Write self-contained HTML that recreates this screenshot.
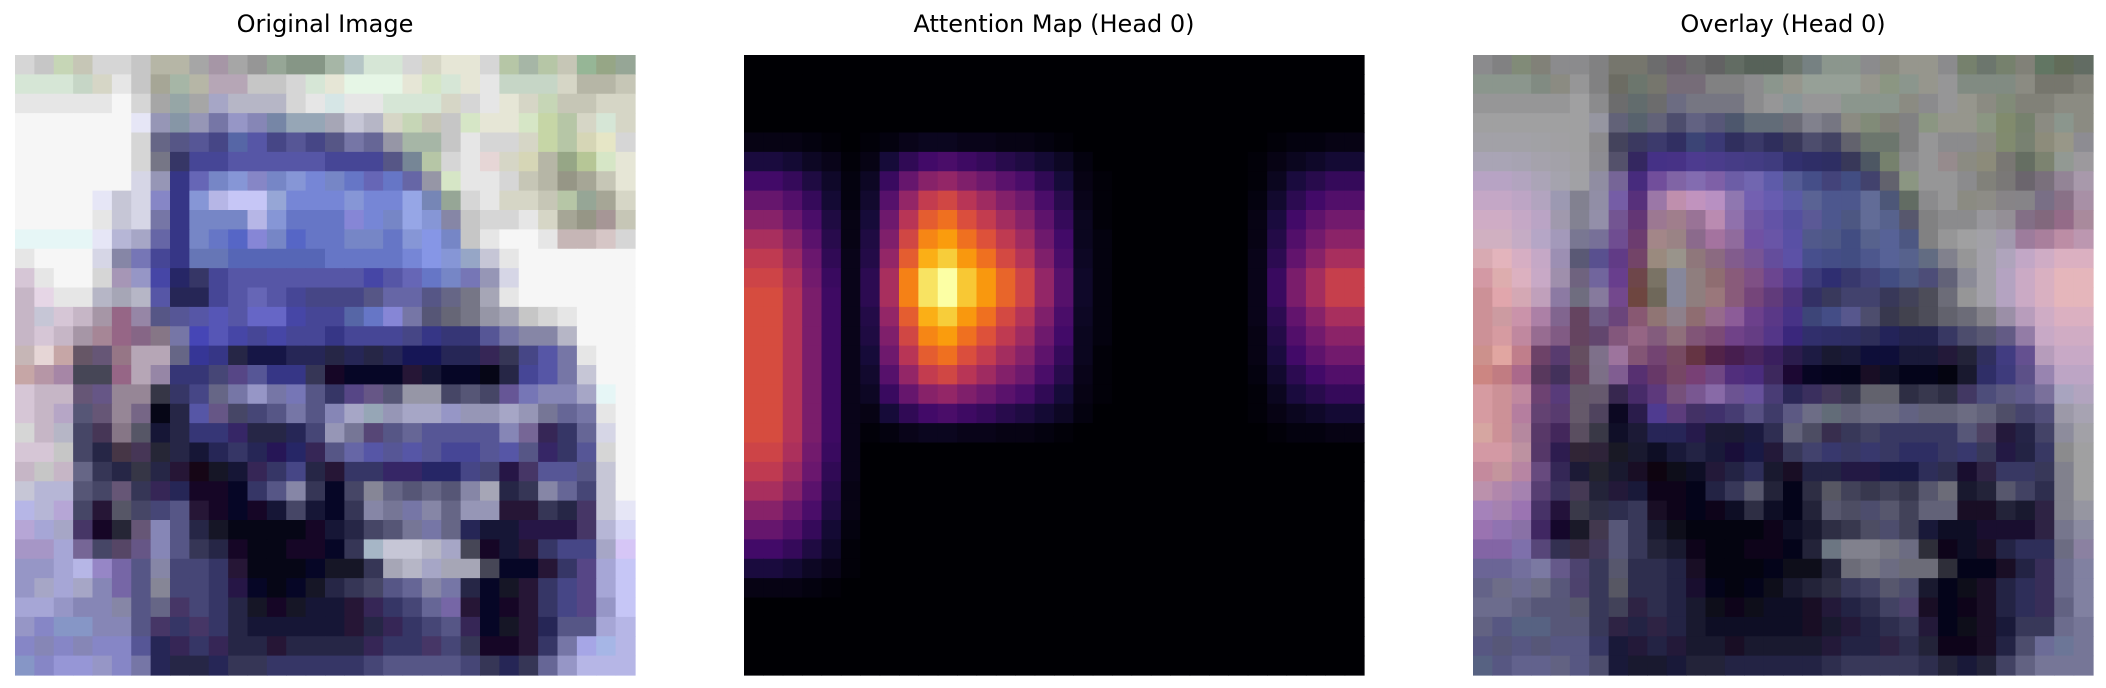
<!DOCTYPE html>
<html><head><meta charset="utf-8"><style>
html,body{margin:0;padding:0;background:#fff;}
svg{display:block;}
text{font-family:"DejaVu Sans","Liberation Sans",sans-serif;font-size:24px;fill:#000;}
</style></head><body>
<svg id="fig" width="2106" height="688" viewBox="0 0 2106 688" xmlns="http://www.w3.org/2000/svg">
<rect x="0" y="0" width="2106" height="688" fill="#fff"/>
<text x="325" y="32" text-anchor="middle">Original Image</text>
<text x="1054" y="32" text-anchor="middle">Attention Map (Head 0)</text>
<text x="1783" y="32" text-anchor="middle">Overlay (Head 0)</text>
<g id="p1"></g>
<g id="p2"></g>
<g id="p3"></g>
</svg>
<script>
// Original image pixels (32x32), rows of short hex colours
const imageRows = [
["ddd","ccc","cdb","ccb","ddd","ddd","ccc","bba","bba","aaa","a9a","aaa","999","9a9","898","898","aba","bcc","ded","ded","ddd","ddc","eed","eed","ddd","bca","aba","bca","ccb","9b9","9a8","9a9"],
["ded","ded","ded","cdc","ddc","eee","ccc","aa9","aba","bba","bab","bab","ccc","ccc","ddd","ded","eed","efe","efe","efe","eed","dec","ded","eed","eee","cdc","cdc","cdc","ddc","bba","bba","ccb"],
["eee","eee","eee","eee","eee","fff","ddd","aaa","9aa","aaa","aac","bbc","bbc","bbc","ddd","eee","dee","eee","eee","ded","ded","ded","ddc","ddd","eee","eed","ddc","cdb","ccb","ccb","ddc","ddc"],
["fff","fff","fff","fff","fff","fff","eef","99b","89a","99b","77a","99c","88b","78a","9ab","9ab","aab","ccd","bbc","ddc","cdb","ccb","ccc","dec","eed","eed","dec","cda","bca","ddc","ded","ddc"],
["fff","fff","fff","fff","fff","fff","ddd","668","558","559","448","56a","55a","448","559","448","558","77a","669","99a","aba","aba","ccc","eee","ddd","ddd","ddc","cda","bca","ddb","eec","ddd"],
["fff","fff","fff","fff","fff","fff","ddd","778","336","449","449","55a","55a","55a","55a","55a","449","449","449","558","789","bca","ddd","eee","edd","ddc","ddb","bba","9a8","bc9","dec","eed"],
["fff","fff","fff","fff","fff","fff","dde","99b","338","66b","78c","89d","88c","78c","89d","78d","78c","67c","66b","67c","66a","99a","dec","eee","eee","ddd","ccb","bba","998","aa9","ccb","eed"],
["fff","fff","fff","fff","eef","ccd","dde","88c","338","89d","bbe","ccf","ccf","9ad","78d","78d","78d","89d","78d","78d","9ae","78b","9a9","ddd","eee","ddc","ddc","ccb","bca","9a9","aa9","ddc"],
["fff","fff","fff","fff","eee","ccd","dde","77a","338","78c","78c","78c","bbe","89d","67c","67c","67c","88d","78d","78c","9ae","89d","88a","ccc","ddd","ddd","eee","ddc","aa9","998","a99","ccb"],
["eff","eff","eff","eff","eef","bbd","aac","66a","338","78c","67c","56c","88d","78c","56c","67c","67c","78c","78c","67c","89d","89e","78c","ccc","eee","fff","fff","eee","cbb","cbb","dcc","ddd"],
["eee","fff","fff","fff","dde","88a","77b","449","338","67b","67b","56b","56b","56b","56b","56b","67c","67c","67c","67c","78d","89e","89d","9ac","ccd","eee","fff","fff","fff","fff","fff","fff"],
["dcd","eee","fff","fff","ddd","a9b","99c","44a","226","336","449","55a","55a","55a","55a","55a","55a","55a","44a","55a","66b","67c","78c","77b","99b","dde","fff","fff","fff","fff","fff","fff"],
["cbc","ede","eee","eee","bbc","aab","bbc","55a","225","225","449","55a","66b","55a","449","448","448","448","558","66a","66a","558","668","778","aab","eee","fff","fff","fff","fff","fff","fff"],
["cbc","ccd","dcd","cbc","a9a","968","98a","558","559","55a","55b","55a","66c","66c","44a","449","449","56a","67c","88d","77a","557","667","778","99a","aab","ccc","ddd","eee","fff","fff","fff"],
["cbc","dcd","cbc","a9a","a89","968","868","878","77a","44b","55b","44a","449","44a","449","449","338","449","449","449","448","338","337","337","559","77a","88a","88a","bbc","fff","fff","fff"],
["cbb","edd","caa","656","657","978","bab","bab","668","339","338","224","114","114","225","225","224","225","224","225","115","115","225","225","325","335","448","55a","77a","eee","fff","fff"],
["caa","b9a","a8a","445","445","968","bab","98a","337","337","447","548","559","338","338","335","102","002","002","002","213","113","002","002","001","224","449","55a","77a","ccd","fff","fff"],
["dcd","cbc","cbc","657","658","989","989","334","336","448","668","77a","99c","77a","77b","558","336","548","658","557","99a","99a","446","557","446","659","77b","88b","88b","aac","eff","fff"],
["dcd","cbc","bac","557","657","989","768","001","224","55a","658","446","447","558","77a","558","88b","aac","9ab","99b","aac","aac","99c","99b","99b","aac","99b","779","669","77a","eee","fff"],
["ddd","cbc","bbc","446","435","878","556","113","224","337","337","326","224","224","225","447","99b","779","547","558","669","559","559","559","559","88b","769","325","336","669","dde","fff"],
["dcd","dcd","ccc","446","224","434","435","223","224","113","225","336","225","215","226","325","558","66a","55a","559","55a","559","449","449","559","55a","558","326","336","559","ddd","fff"],
["cbc","ccc","cbc","668","335","224","334","224","213","101","112","113","325","336","448","224","213","336","336","326","326","226","226","448","447","214","436","559","559","558","ccd","fff"],
["ccd","bbd","bbd","557","446","657","335","325","225","102","102","002","336","558","88a","335","002","446","889","668","557","668","557","88a","aab","224","335","88a","669","447","ccd","fff"],
["bbe","bbd","bad","446","213","556","446","447","558","213","102","002","102","113","446","113","002","335","88a","779","77a","88a","668","99b","99b","213","213","335","224","436","ccd","eef"],
["bad","aad","aac","436","102","223","657","88b","558","224","112","001","001","001","001","102","113","224","446","557","779","77a","668","225","113","113","214","214","214","436","bbd","ddf"],
["a9c","a9c","aad","769","446","546","658","88b","558","335","224","102","001","001","102","102","002","335","abc","ccd","ccd","bbc","aac","445","102","113","213","336","448","448","aac","dcf"],
["99c","99c","aad","bbe","98c","76a","558","88a","447","447","336","213","001","001","001","002","112","112","335","aab","bbc","aac","aab","aab","445","002","002","213","336","548","aad","ccf"],
["99c","aac","aad","aac","88b","76a","558","889","447","447","336","214","002","001","002","112","224","335","446","558","669","88a","77a","224","002","112","213","336","448","548","aad","ccf"],
["aad","aad","99c","88b","88b","88a","558","668","436","447","336","224","112","102","112","113","113","213","325","336","447","669","76a","213","002","102","213","336","448","548","99c","ccf"],
["99c","88c","89c","89c","88b","88b","558","436","336","436","336","224","113","113","113","113","113","213","224","325","336","447","558","325","002","112","213","225","558","558","aad","bbe"],
["88c","88b","88c","88b","88c","88c","559","225","325","336","325","224","224","213","224","224","224","224","325","336","336","436","447","335","102","102","213","336","77a","aae","abe","bbe"],
["89c","88c","99d","99d","99c","88c","77a","225","224","224","225","335","335","336","336","336","336","336","447","558","558","558","558","447","335","225","335","669","99c","bbe","bbe","bbe"]
];
// Attention weights (x100), 32x32
const z0 = [0,0,0,0,0,0,0,0,0,0,0,0,0,0,0,0,0,0,0,0,0,0,0,0,0,0,0,0,0,0,0,0];
const attentionRows = [
z0.slice(), z0.slice(), z0.slice(), z0.slice(),
[3,3,3,2,1,0,1,2,4,5,5,4,4,3,3,2,1,0,0,0,0,0,0,0,0,0,0,1,2,2,3,3],
[11,11,9,6,4,1,3,10,16,20,22,19,17,14,12,9,6,2,0,0,0,0,0,0,0,0,1,3,5,7,9,9],
[20,20,17,12,7,2,6,18,29,37,40,35,31,26,22,16,10,3,1,0,0,0,0,0,0,0,1,5,11,14,17,17],
[29,29,24,17,9,2,8,25,40,52,56,49,43,36,31,22,14,4,1,0,0,0,0,0,0,0,2,8,15,20,24,24],
[37,37,30,22,12,3,10,31,49,63,68,59,52,44,37,27,17,5,1,0,0,0,0,0,0,0,3,11,20,27,32,32],
[45,45,37,26,14,3,12,35,56,73,78,68,60,51,43,31,20,5,2,0,0,0,0,0,0,0,3,13,24,32,38,38],
[51,51,42,30,16,4,13,40,63,82,88,77,68,57,48,35,22,6,2,0,0,0,0,0,0,0,4,15,28,37,45,45],
[55,55,46,32,18,4,15,45,72,93,100,87,77,65,55,40,25,7,2,0,0,0,0,0,0,0,4,18,34,44,53,53],
[58,58,48,34,19,4,15,45,72,93,100,87,77,65,55,40,25,7,2,0,0,0,0,0,0,0,4,18,34,44,53,53],
[58,58,48,34,19,4,13,40,63,82,88,77,68,57,48,35,22,6,2,0,0,0,0,0,0,0,4,15,28,37,45,45],
[58,58,48,34,19,4,12,35,56,73,78,68,60,51,43,31,20,5,2,0,0,0,0,0,0,0,3,13,24,32,38,38],
[58,58,48,34,19,4,10,31,49,63,68,59,52,44,37,27,17,5,1,0,0,0,0,0,0,0,3,11,20,27,32,32],
[58,58,48,34,19,4,8,25,40,52,56,49,43,36,31,22,14,4,1,0,0,0,0,0,0,0,2,8,15,20,24,24],
[58,58,48,34,19,4,6,18,29,37,40,35,31,26,22,16,10,3,1,0,0,0,0,0,0,0,1,5,11,14,17,17],
[58,58,48,34,19,4,3,10,16,20,22,19,17,14,12,9,6,2,0,0,0,0,0,0,0,0,1,3,5,7,9,9],
[58,58,48,34,19,4,1,2,4,5,5,4,4,3,3,2,1,0,0,0,0,0,0,0,0,0,0,1,2,2,3,3],
[55,55,46,32,18,4,0,0,0,0,0,0,0,0,0,0,0,0,0,0,0,0,0,0,0,0,0,0,0,0,0,0],
[51,51,42,30,16,4,0,0,0,0,0,0,0,0,0,0,0,0,0,0,0,0,0,0,0,0,0,0,0,0,0,0],
[45,45,37,26,14,3,0,0,0,0,0,0,0,0,0,0,0,0,0,0,0,0,0,0,0,0,0,0,0,0,0,0],
[37,37,30,22,12,3,0,0,0,0,0,0,0,0,0,0,0,0,0,0,0,0,0,0,0,0,0,0,0,0,0,0],
[29,29,24,17,9,2,0,0,0,0,0,0,0,0,0,0,0,0,0,0,0,0,0,0,0,0,0,0,0,0,0,0],
[20,20,17,12,7,1,0,0,0,0,0,0,0,0,0,0,0,0,0,0,0,0,0,0,0,0,0,0,0,0,0,0],
[11,11,9,6,4,1,0,0,0,0,0,0,0,0,0,0,0,0,0,0,0,0,0,0,0,0,0,0,0,0,0,0],
[3,3,3,2,1,0,0,0,0,0,0,0,0,0,0,0,0,0,0,0,0,0,0,0,0,0,0,0,0,0,0,0],
z0.slice(), z0.slice(), z0.slice(), z0.slice()
];
const overlayAlpha = 0.35;

const INF = [[0,0,4],[22,11,57],[66,10,104],[106,23,110],[147,38,103],[188,55,84],[221,81,58],[243,120,25],[252,165,10],[246,215,70],[252,255,164]];
function inferno(t){
  t=Math.max(0,Math.min(1,t));const s=t*10;const i=Math.min(9,Math.floor(s));const f=s-i;
  return INF[i].map((v,k)=>v+(INF[i+1][k]-v)*f);
}
function hex3(h){return [0,1,2].map(k=>parseInt(h[k],16)*16+6);}
const NS="http://www.w3.org/2000/svg";
const panelX=[15,744,1473], panelY=55, panelW=620;
const nR=imageRows.length, nC=imageRows[0].length;
const cw=panelW/nC, chh=panelW/nR;
function xs(p,c){return panelX[p]+c*cw;}
function ys(r){return panelY+r*chh;}
let amin=Infinity, amax=-Infinity;
attentionRows.forEach(r=>r.forEach(v=>{amin=Math.min(amin,v);amax=Math.max(amax,v);}));
function cell(g,p,r,c,rgb){
  const e=document.createElementNS(NS,"rect");
  e.setAttribute("x",xs(p,c).toFixed(2));e.setAttribute("y",ys(r).toFixed(2));
  e.setAttribute("width",(cw+0.6).toFixed(2));e.setAttribute("height",(chh+0.6).toFixed(2));
  e.setAttribute("fill","rgb("+rgb.map(v=>Math.round(v)).join(",")+")");
  
  
  g.appendChild(e);
}
const g1=document.getElementById("p1"),g2=document.getElementById("p2"),g3=document.getElementById("p3");
for(let r=0;r<nR;r++)for(let c=0;c<nC;c++){
  const o=hex3(imageRows[r][c]);
  const h=inferno((attentionRows[r][c]-amin)/((amax-amin)||1));
  cell(g1,0,r,c,o);
  cell(g2,1,r,c,h);
  cell(g3,2,r,c,o.map((v,k)=>v*(1-overlayAlpha)+h[k]*overlayAlpha));
}
</script>
</body></html>
